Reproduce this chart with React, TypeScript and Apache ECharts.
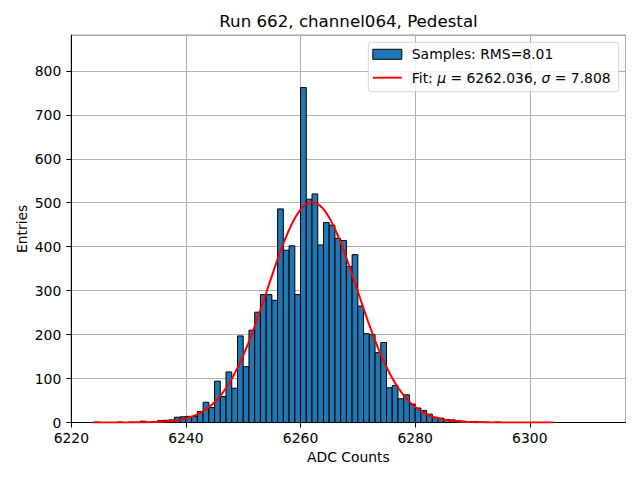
import React, { useEffect, useRef } from "react";
import * as echarts from "echarts";

// ---- data ----
const TITLE = "Run 662, channel064, Pedestal";
const X_LABEL = "ADC Counts";
const Y_LABEL = "Entries";
const SAMPLES_NAME = "Samples: RMS=8.01";
const FIT_NAME = "Fit: μ = 6262.036, σ = 7.808";

// histogram bins of width 1 starting at BIN_START
const BIN_START = 6224;
const BIN_WIDTH = 1;
const COUNTS = [
  1, 0, 0, 0, 1, 0, 1, 1, 3, 1, // 6224-6233
  2, 4, 5, 6, 12, 13, 14, 14, 25, 46, // 6234-6243
  34, 94, 59, 115, 78, 197, 127, 210, 251, 291, // 6244-6253
  291, 278, 486, 392, 402, 291, 762, 508, 520, 404, // 6254-6263
  455, 449, 419, 414, 355, 382, 265, 202, 200, 159, // 6264-6273
  182, 79, 84, 54, 63, 42, 33, 27, 19, 12, // 6274-6283
  10, 7, 6, 4, 3, 2, 2, 1, 1, 0, // 6284-6293
  1, 0, 0, 0, 0, 0, 0, 0, 0, 0, // 6294-6303
];

// Gaussian fit parameters (from legend) and its drawn extent
const FIT_MU = 6262.036;
const FIT_SIGMA = 7.808;
const FIT_AMPLITUDE = 501;
const FIT_X_MIN = 6223.8;
const FIT_X_MAX = 6304.1;
const FIT_SAMPLES = 300;

// axes
const X_MIN = 6220;
const X_MAX = 6316.7;
const X_INTERVAL = 20;
const Y_MIN = 0;
const Y_MAX = 881;
const Y_INTERVAL = 100;

const FONT = "'DejaVu Sans', 'Liberation Sans', sans-serif";

export default function App() {
  const ref = useRef<HTMLDivElement>(null);

  useEffect(() => {
    if (!ref.current) return;
    const chart = echarts.init(ref.current, undefined, { renderer: "svg" });

    const histData = COUNTS.map((c, i) => [
      BIN_START + i * BIN_WIDTH,
      BIN_START + (i + 1) * BIN_WIDTH,
      c,
    ]);

    const fitData: number[][] = [];
    for (let k = 0; k <= FIT_SAMPLES; k++) {
      const x = FIT_X_MIN + ((FIT_X_MAX - FIT_X_MIN) * k) / FIT_SAMPLES;
      const z = (x - FIT_MU) / FIT_SIGMA;
      fitData.push([x, FIT_AMPLITUDE * Math.exp(-0.5 * z * z)]);
    }

    const axisCommon = {
      axisLine: { show: true, lineStyle: { color: "#000", width: 1 } },
      axisTick: { show: true, inside: false, length: 5, lineStyle: { color: "#000", width: 1 } },
      splitLine: { show: true, lineStyle: { color: "#b0b0b0", width: 1 } },
      nameTextStyle: { fontFamily: FONT, fontSize: 13.9, color: "#000" },
      nameMoveOverlap: false,
    };

    chart.setOption({
      animation: false,
      backgroundColor: "#fff",
      textStyle: { fontFamily: FONT },
      grid: {
        left: 71.3,
        right: 14.5,
        top: 35.3,
        bottom: 57.5,
        show: true,
        borderColor: "#000",
        borderWidth: 1,
        containLabel: false,
      },
      graphic: [
        {
          type: "text",
          x: 348.5,
          y: 21,
          style: {
            text: TITLE,
            fontFamily: FONT,
            fontSize: 16.67,
            fill: "#000",
            textAlign: "center",
            textVerticalAlign: "middle",
          },
        },
      ],
      legend: {
        orient: "vertical",
        left: 368.3,
        top: 42.3,
        itemWidth: 29,
        itemHeight: 10,
        itemGap: 7.4,
        padding: [4, 8, 6, 4],
        backgroundColor: "rgba(255,255,255,0.8)",
        borderColor: "rgba(204,204,204,0.8)",
        borderWidth: 1,
        borderRadius: 3,
        selectedMode: false,
        textStyle: {
          fontFamily: FONT,
          fontSize: 13.9,
          color: "#000",
          lineHeight: 16,
          padding: [0, 0, 0, 5],
          rich: {
            i: { fontFamily: FONT, fontSize: 13.9, fontStyle: "italic", color: "#000", lineHeight: 16 },
          },
        },
        formatter: (name: string) =>
          name === FIT_NAME ? "Fit: {i|μ} = 6262.036, {i|σ} = 7.808" : name,
        data: [
          {
            name: SAMPLES_NAME,
            icon: "rect",
            itemStyle: { color: "#1f77b4", borderColor: "#000", borderWidth: 1 },
          },
          {
            name: FIT_NAME,
            icon: "path://M0,0 L30,0 L30,2 L0,2 Z",
            itemStyle: { color: "#ff0000", borderWidth: 0 },
          },
        ],
      },
      xAxis: {
        type: "value",
        min: X_MIN,
        max: X_MAX,
        interval: X_INTERVAL,
        name: X_LABEL,
        nameLocation: "middle",
        nameGap: 27.5,
        ...axisCommon,
        axisLabel: {
          fontFamily: FONT,
          fontSize: 13.9,
          color: "#000",
          margin: 8,
          showMaxLabel: false,
          formatter: (v: number) => String(v),
        },
      },
      yAxis: {
        type: "value",
        min: Y_MIN,
        max: Y_MAX,
        interval: Y_INTERVAL,
        name: Y_LABEL,
        nameLocation: "middle",
        nameRotate: 90,
        nameGap: 42,
        ...axisCommon,
        axisLabel: {
          fontFamily: FONT,
          fontSize: 13.9,
          color: "#000",
          margin: 10,
          showMaxLabel: false,
          formatter: (v: number) => String(v),
        },
      },
      series: [
        {
          name: SAMPLES_NAME,
          type: "custom",
          itemStyle: { color: "#1f77b4", borderColor: "#000", borderWidth: 1 },
          encode: { x: [0, 1], y: 2 },
          data: histData,
          renderItem: (params: any, api: any) => {
            const x0 = api.value(0);
            const x1 = api.value(1);
            const v = api.value(2);
            const p0 = api.coord([x0, v]);
            const p1 = api.coord([x1, 0]);
            return {
              type: "rect",
              shape: { x: p0[0], y: p0[1], width: p1[0] - p0[0], height: p1[1] - p0[1] },
              style: { fill: "#1f77b4", stroke: "#000", lineWidth: 1 },
            };
          },
          z: 2,
        },
        {
          name: FIT_NAME,
          type: "line",
          data: fitData,
          showSymbol: false,
          symbol: "none",
          lineStyle: { color: "#ff0000", width: 2 },
          itemStyle: { color: "#ff0000" },
          z: 3,
        },
      ],
    });

    return () => chart.dispose();
  }, []);

  return (
    <div
      ref={ref}
      style={{ position: "absolute", left: 0, top: 0, width: 640, height: 480 }}
    />
  );
}
